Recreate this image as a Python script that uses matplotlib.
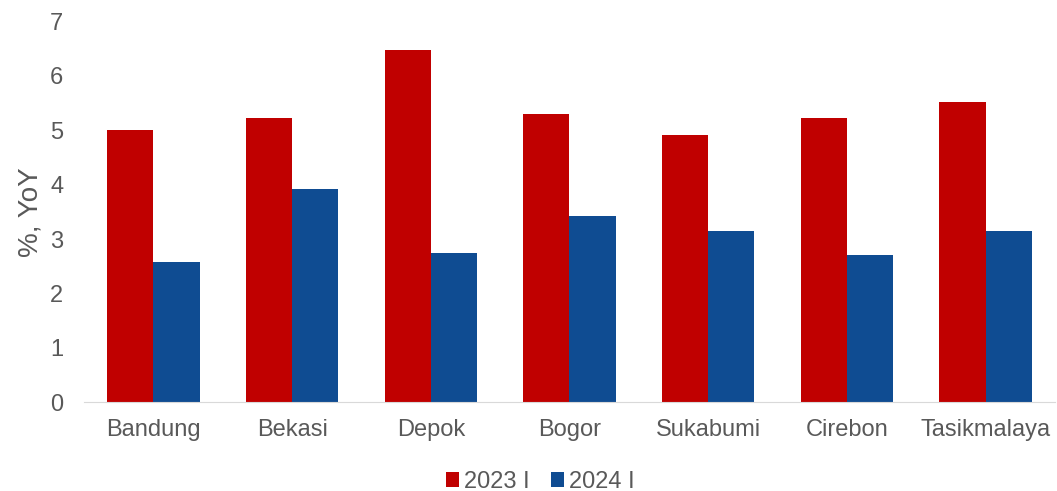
import numpy as np
import matplotlib.pyplot as plt

plt.rcParams["font.family"] = ["Liberation Sans", "DejaVu Sans"]

cities = ["Bandung", "Bekasi", "Depok", "Bogor", "Sukabumi", "Cirebon", "Tasikmalaya"]
y2023 = [5.01, 5.22, 6.48, 5.30, 4.91, 5.23, 5.52]
y2024 = [2.58, 3.92, 2.74, 3.42, 3.14, 2.71, 3.14]

red = "#C00000"
blue = "#0F4C92"
grey = "#595959"

fig = plt.figure(figsize=(10.57, 4.91), dpi=100)
ax = fig.add_axes([0.0795, 0.181, 0.9185, 0.775])

x = np.arange(len(cities))
w = 1 / 3
ax.bar(x - w / 2, y2023, w, color=red, label="2023 I")
ax.bar(x + w / 2, y2024, w, color=blue, label="2024 I")

ax.set_xlim(-0.5, len(cities) - 0.5)
ax.set_ylim(0, 7)
ax.set_xticks(x)
ax.set_xticklabels(cities)
ax.set_yticks(range(8))
ax.tick_params(axis="both", length=0, labelsize=17, colors=grey)
ax.tick_params(axis="x", pad=12)
ax.tick_params(axis="y", pad=15)

for s in ["top", "right", "left"]:
    ax.spines[s].set_visible(False)
ax.spines["bottom"].set_color("#D9D9D9")

ax.set_ylabel("%, YoY", fontsize=20, color=grey)
ax.yaxis.set_label_coords(-0.042, 0.5)

ax.legend(loc="upper center", bbox_to_anchor=(0.47, -0.125), ncol=2, frameon=False,
          fontsize=17, labelcolor=grey, handlelength=0.55, handleheight=0.55,
          handletextpad=0.2, columnspacing=0.9)

fig.savefig("out.png", dpi=100)
